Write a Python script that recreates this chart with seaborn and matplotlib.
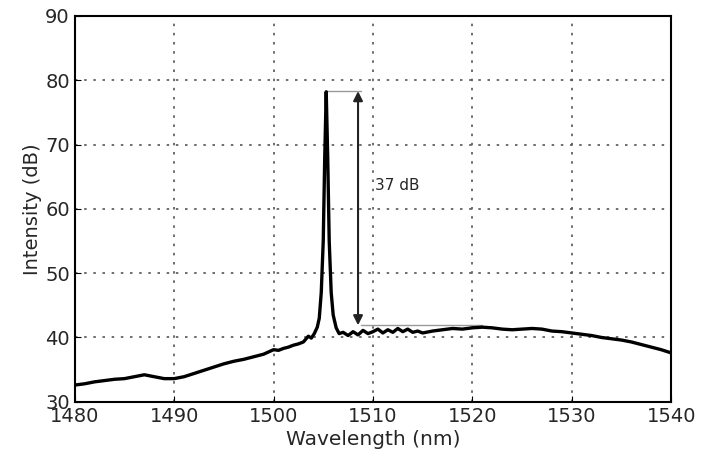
# -*- coding: utf-8 -*-
"""
Laser emission spectrum: intensity vs. wavelength with side-mode suppression marker.
"""
import matplotlib
matplotlib.use("Agg")
import matplotlib.pyplot as plt
import seaborn as sns
import pandas as pd

# Spectrum (nm, dB)
wavelength = [
    1480.0, 1481.0, 1482.0, 1483.0, 1484.0, 1485.0, 1486.0, 1487.0, 1488.0, 1489.0,
    1490.0, 1491.0, 1492.0, 1493.0, 1494.0, 1495.0, 1496.0, 1497.0, 1498.0, 1499.0,
    1500.0, 1500.5, 1501.0, 1501.5, 1502.0, 1502.5, 1503.0, 1503.5, 1503.8, 1504.1,
    1504.4, 1504.6, 1504.8, 1505.0, 1505.15, 1505.3, 1505.45, 1505.6, 1505.8, 1506.0,
    1506.3, 1506.6, 1507.0, 1507.5, 1508.0, 1508.5, 1509.0, 1509.5, 1510.0, 1510.5,
    1511.0, 1511.5, 1512.0, 1512.5, 1513.0, 1513.5, 1514.0, 1514.5, 1515.0, 1516.0,
    1517.0, 1518.0, 1519.0, 1520.0, 1521.0, 1522.0, 1523.0, 1524.0, 1525.0, 1526.0,
    1527.0, 1528.0, 1529.0, 1530.0, 1531.0, 1532.0, 1533.0, 1534.0, 1535.0, 1536.0,
    1537.0, 1538.0, 1539.0, 1540.0,
]
intensity = [
    32.6, 32.8, 33.1, 33.3, 33.5, 33.6, 33.9, 34.2, 33.9, 33.6,
    33.6, 33.9, 34.4, 34.9, 35.4, 35.9, 36.3, 36.6, 37.0, 37.4,
    38.1, 38.0, 38.3, 38.5, 38.8, 39.0, 39.3, 40.2, 39.9, 40.6,
    41.6, 43.0, 47.0, 55.0, 68.0, 78.2, 68.0, 55.0, 47.0, 43.5,
    41.5, 40.6, 40.8, 40.3, 40.9, 40.4, 41.1, 40.6, 40.9, 41.3,
    40.7, 41.2, 40.8, 41.4, 40.9, 41.3, 40.8, 41.0, 40.7, 41.0,
    41.2, 41.4, 41.3, 41.5, 41.6, 41.5, 41.3, 41.2, 41.3, 41.4,
    41.3, 41.0, 40.9, 40.7, 40.5, 40.3, 40.0, 39.8, 39.6, 39.3,
    38.9, 38.5, 38.1, 37.6,
]

# Suppression annotation levels
peak_level = 78.3
floor_level = 41.9
arrow_x = 1508.5
label_text = "37 dB"

xticks = [1480, 1490, 1500, 1510, 1520, 1530, 1540]
yticks = [30, 40, 50, 60, 70, 80, 90]


def set_style():
    sns.set_style("ticks")
    plt.rcParams.update({
        'font.family': ['DejaVu Sans'],
        'xtick.direction': 'in',
        'ytick.direction': 'in',
    })


def plot_spectrum():
    set_style()
    df = pd.DataFrame({'Wavelength': wavelength, 'Intensity': intensity})

    fig = plt.figure(figsize=(7.05, 4.54), dpi=100)
    ax = fig.add_axes([0.106, 0.115, 0.846, 0.85])
    sns.lineplot(data=df, x='Wavelength', y='Intensity', ax=ax,
                 color='black', linewidth=2.4, zorder=3)

    # gray reference lines for the peak and the side-mode floor
    ax.plot([1505.3, arrow_x + 0.3], [peak_level, peak_level],
            color='#999999', linewidth=1.0, zorder=2)
    ax.plot([arrow_x + 0.3, 1521.0], [floor_level, floor_level],
            color='#999999', linewidth=1.0, zorder=2)
    ax.annotate('', xy=(arrow_x, floor_level), xytext=(arrow_x, peak_level),
                arrowprops=dict(arrowstyle='<|-|>', color='#222222', lw=1.5,
                                mutation_scale=14, shrinkA=0, shrinkB=0))
    ax.text(arrow_x + 1.7, 63.7, label_text, fontsize=11, va='center', ha='left')

    ax.set_xlim(1480, 1540)
    ax.set_ylim(30, 90)
    ax.set_xticks(xticks)
    ax.set_yticks(yticks)
    ax.tick_params(labelsize=14, length=4, color='black')
    ax.grid(True, linestyle=(0, (1.5, 4)), color='#555555', linewidth=1.2)
    for s in ax.spines.values():
        s.set_color('black')
        s.set_linewidth(1.5)
    ax.set_xlabel('Wavelength (nm)', fontsize=14.5, labelpad=3)
    ax.set_ylabel('Intensity (dB)', fontsize=14, labelpad=2)

    fig.savefig('out.png', dpi=100)
    plt.close(fig)


if __name__ == '__main__':
    plot_spectrum()
